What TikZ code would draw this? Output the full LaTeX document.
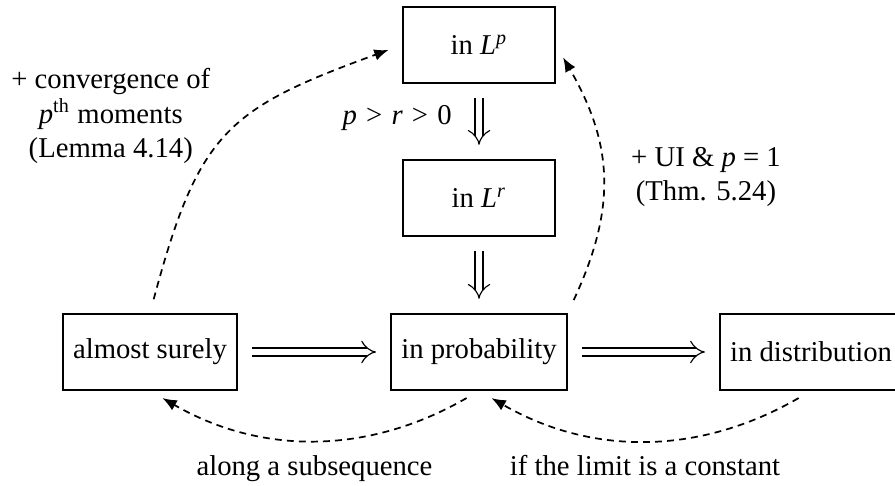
\documentclass[tikz,border=0pt]{standalone}
\usepackage{fontspec}
\setmainfont{Liberation Serif}
\usetikzlibrary{positioning, arrows.meta, cd}
\newcommand{\vr}[1]{\textit{#1}}
\newcommand{\relgap}{\kern0.7pt}
\tikzset{
	modenode/.style={
			draw=black,
			line width=0.6pt,
			minimum width=53pt,
			minimum height=26.5pt,
			inner xsep=3.5pt
		},
	implarrow/.style={
			double,
			double distance=2.4pt,
			line width=0.4pt,
			-{cm implies},
			shorten <=5pt,
			shorten >=5pt
		},
	dashedarrow/.style={
			line width=0.6pt,
			dash pattern=on 2.4pt off 1.8pt,
			-{Latex[length=5pt,width=4pt]},
			shorten <=5pt,
			shorten >=5pt
		}
}

\begin{document}
\begin{tikzpicture}
\useasboundingbox (-5.867,-1.641) rectangle (5.095,4.311);

\node[modenode] (prob) at (0,0) {in probability};
\node[modenode] (lp) at (0,3.76) {in \vr{L}\textsuperscript{\vr{p}}};
\node[modenode] (lr) at (0,1.886) {in \vr{L}\textsuperscript{\vr{r}}};
\node[modenode] (as) at (-4.03,0) {almost surely};
\node[modenode] (dist) at (4.067,0) {in distribution};

\draw[implarrow] (as) -- (prob);
\draw[implarrow] (prob) -- (dist);
\draw[implarrow] (lp) -- node[pos=0.45, left=6pt]
  {\vr{p}\relgap{} > \relgap{}\vr{r}\relgap{} > \relgap{}0} (lr);
\draw[implarrow] (lr) -- (prob);

\draw[dashedarrow] (as.north) to[out=75, in=200, looseness=1.3] (lp.west);
\draw[dashedarrow] (prob.north east) to[out=65, in=-60, looseness=1.1] (lp.east);
\draw[dashedarrow] (prob.south) to[out=-150, in=-30]
  node[below=2pt] {along a subsequence} (as.south);
\draw[dashedarrow] (dist.south) to[out=-150, in=-30]
  node[below=2pt] {if the limit is a constant} (prob.south);

\node[align=center] (moments) at (-4.51,2.89) {+ convergence of\\ \vr{p}\textsuperscript{th} moments\\ (Lemma 4.14)};
\node[align=center] (uniform) at (2.78,2.14) {+ UI \& \vr{p} = 1\\ (Thm. 5.24)};
\end{tikzpicture}
\end{document}
